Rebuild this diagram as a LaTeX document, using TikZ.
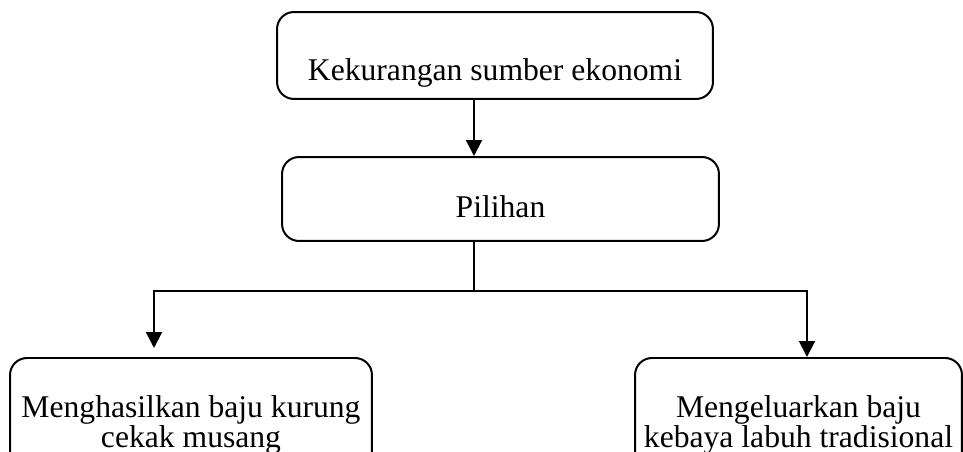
\documentclass[tikz,border=0pt]{standalone}
\usepackage{fontspec}
\setmainfont{Liberation Serif}
\usetikzlibrary{arrows.meta}
\usetikzlibrary{calc}

\begin{document}
\begin{tikzpicture}[x=0.02cm, y=-0.02cm,
    box/.style={draw, line width=0.04cm, rounded corners=0.34cm, inner xsep=0.1cm,
      font=\fontsize{18}{17}\selectfont, align=center},
    arr/.style={line width=0.04cm, -{Triangle[width=0.32cm, length=0.32cm]}}]
 	 % Fix the frame of the picture
 	 \useasboundingbox (0,0) rectangle (963,452);
 	 \clip (0,0) rectangle (963,452);

 	 % Boxes
 	 \node[box, minimum width=8.72cm, minimum height=1.74cm, text height=1.02cm, text depth=0cm] (ekonomi) at (495,55.5) {Kekurangan sumber ekonomi};
 	 \node[box, minimum width=8.74cm, minimum height=1.68cm, text height=0.76cm, text depth=0cm] (pilihan) at (500.5,199) {Pilihan};
 	 \node[box, anchor=north, minimum width=7.24cm, inner ysep=0.76cm] (kurung) at (191,357) {Menghasilkan baju kurung\\cekak musang};
 	 \node[box, anchor=north, minimum width=6.54cm, inner ysep=0.76cm] (kebaya) at (798.5,357) {Mengeluarkan baju\\kebaya labuh tradisional};

 	 % Branch points
 	 \coordinate (split) at (474,291);
 	 \coordinate (leftdrop) at (154,291);
 	 \coordinate (rightdrop) at (807,291);

 	 % Connectors
 	 \draw[arr] (ekonomi.south -| split) -- (pilihan.north -| split);
 	 \draw[line width=0.04cm] (pilihan.south -| split) -- (split);
 	 \draw[arr, shorten >=0.18cm] (split) -| (leftdrop |- kurung.north);
 	 \draw[arr] (split) -| (rightdrop |- kebaya.north);
\end{tikzpicture}
\end{document}
